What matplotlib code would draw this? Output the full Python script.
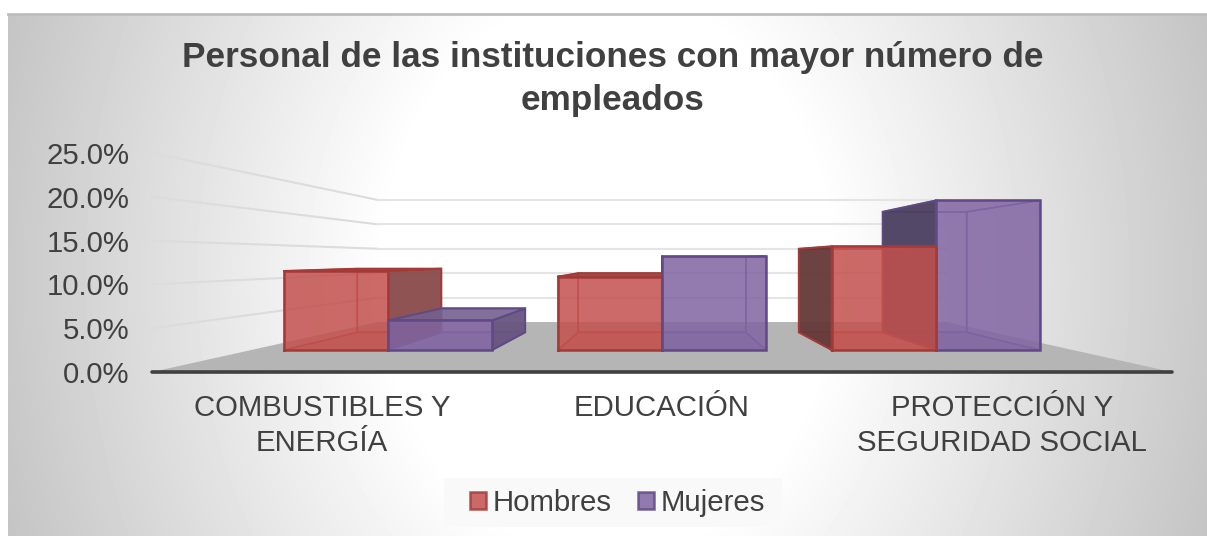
import matplotlib
matplotlib.use('Agg')
import matplotlib.pyplot as plt
from matplotlib.patches import Patch, Rectangle
import numpy as np

categories = ['COMBUSTIBLES Y\nENERGÍA', 'EDUCACIÓN', 'PROTECCIÓN Y\nSEGURIDAD SOCIAL']
series_names = ['Hombres', 'Mujeres']
hombres = [11.2, 10.4, 14.7]
mujeres = [4.2, 13.3, 21.2]
y_ticks = [0, 5, 10, 15, 20, 25]

W, H = 1207, 536
TEXT = '#404040'
FONT = 21.2

# perspective of the fake 3D box: vanishing point and depth scales
VP_X, VP_Y = 1.0, 12.9
S_FRONT, S_BACK = 0.805, 0.649
S_WALL = 0.558
BAR_W = 0.38

FILLS = ['#c2504d', '#8064a2']
EDGES = ['#a33a38', '#5f4a85']
INNER = ['#b5403d', '#6f5a95']
RIGHT_SIDE = ['#8a4a4a', '#675480']
LEFT_SIDE = ['#653838', '#4a3f5f']
TOP_SIDE = ['#8f3f3c', '#75608f']

plt.rcParams['font.family'] = ['Liberation Sans', 'DejaVu Sans']


def proj(x, v, s):
    return VP_X + (x - VP_X) * s, VP_Y + (v - VP_Y) * s


def face(ax, pts, color, edge, alpha=0.88, lw=1.4, z=3.0):
    xs = [p[0] for p in pts]
    ys = [p[1] for p in pts]
    ax.fill(xs, ys, facecolor=color, edgecolor='none', alpha=alpha, clip_on=False, zorder=z)
    ax.plot(xs + xs[:1], ys + ys[:1], color=edge, lw=lw, clip_on=False, zorder=z, solid_joinstyle='miter')


def outline(ax, pts, color, z):
    xs = [p[0] for p in pts]
    ys = [p[1] for p in pts]
    ax.plot(xs + xs[:1], ys + ys[:1], color=color, lw=1.1, alpha=0.75, clip_on=False, zorder=z)


def draw_bar(ax, x0, x1, v, i, z):
    fb = proj(x0, 0, S_FRONT)
    fr = proj(x1, 0, S_FRONT)
    ft = proj(x1, v, S_FRONT)
    fl = proj(x0, v, S_FRONT)
    bb = proj(x0, 0, S_BACK)
    br = proj(x1, 0, S_BACK)
    bt = proj(x1, v, S_BACK)
    bl = proj(x0, v, S_BACK)

    # faces seen through the front only get their outline
    outline(ax, [bb, br, bt, bl], INNER[i], z)
    outline(ax, [fb, fr, br, bb], INNER[i], z)
    ax.fill([fb[0], fr[0], br[0], bb[0]], [fb[1], fr[1], br[1], bb[1]],
            color=FILLS[i], alpha=0.25, lw=0, clip_on=False, zorder=z)
    if x1 <= VP_X:
        face(ax, [fr, br, bt, ft], RIGHT_SIDE[i], EDGES[i], alpha=0.95, z=z + 0.1)
    else:
        outline(ax, [fr, br, bt, ft], INNER[i], z)
    if x0 >= VP_X:
        face(ax, [fb, bb, bl, fl], LEFT_SIDE[i], EDGES[i], alpha=0.95, z=z + 0.1)
    else:
        outline(ax, [fb, bb, bl, fl], INNER[i], z)
    if v < VP_Y:
        face(ax, [fl, ft, bt, bl], TOP_SIDE[i], EDGES[i], alpha=0.9, z=z + 0.1)
    else:
        outline(ax, [fl, ft, bt, bl], INNER[i], z)
    face(ax, [fb, fr, ft, fl], FILLS[i], EDGES[i], alpha=0.85, lw=1.8, z=z + 0.2)


fig = plt.figure(figsize=(W / 100, H / 100), dpi=100, facecolor='white')

# chart area background, white middle going grey to the sides
bg = fig.add_axes([8 / W, 0, (W - 8) / W, (H - 14) / H], zorder=0)
px, py = np.meshgrid(np.arange(8, W), np.arange(14, H))
r = np.sqrt(((px - 607) / 600) ** 2 + ((py - 275) / 750) ** 2)
shade = 255 - np.clip((r - 0.37) / 0.63, 0, 1.15) * 54
bg.imshow(shade, cmap='gray', vmin=0, vmax=255, aspect='auto', interpolation='bilinear')
bg.set_xticks([])
bg.set_yticks([])
for name, sp in bg.spines.items():
    sp.set_visible(name == 'top')
bg.spines['top'].set_color('#bdbdbd')
bg.spines['top'].set_linewidth(2)

ax = fig.add_axes([152 / W, 1 - 372 / H, 1020 / W, 219 / H], zorder=1)
ax.patch.set_visible(False)
for sp in ax.spines.values():
    sp.set_visible(False)
ax.set_xlim(-0.5, 2.5)
ax.set_ylim(0, 25)

# gridlines: left wall then back wall
for t in y_ticks[1:]:
    p0 = proj(-0.5, t, 1)
    p1 = proj(-0.5, t, S_WALL)
    p2 = proj(2.5, t, S_WALL)
    ax.plot([p0[0], p1[0]], [p0[1], p1[1]], color='#dcdcdc', lw=1.5, clip_on=False, zorder=1)
    ax.plot([p1[0], p2[0]], [p1[1], p2[1]], color='#e4e4e4', lw=1.5, clip_on=False, zorder=1)

# floor
floor = [proj(-0.5, 0, 1), proj(2.5, 0, 1), proj(2.5, 0, S_WALL), proj(-0.5, 0, S_WALL)]
ax.fill([p[0] for p in floor], [p[1] for p in floor], color='#b5b5b5', lw=0, clip_on=False, zorder=2)
ax.plot([-0.5, 2.5], [0, 0], color='#404040', lw=2.6, solid_capstyle='round', clip_on=False, zorder=2.5)

for c, (h, m) in enumerate(zip(hombres, mujeres)):
    order = [0, 1] if c <= 1 else [1, 0]
    for k, i in enumerate(order):
        v = (h, m)[i]
        x0 = c - BAR_W if i == 0 else c
        draw_bar(ax, x0, x0 + BAR_W, v, i, 3 + k)

ax.set_yticks(y_ticks)
ax.set_yticklabels(['{0:.1f}%'.format(t) for t in y_ticks], fontsize=FONT, color=TEXT)
ax.set_xticks(range(len(categories)))
ax.set_xticklabels(categories, fontsize=FONT, color=TEXT, linespacing=1.33)
ax.tick_params(axis='y', length=0, pad=16)
ax.tick_params(axis='x', length=0, pad=16)

fig.text(613 / W, 1 - 79 / H, 'Personal de las instituciones con mayor número de\nempleados',
         ha='center', va='center', fontsize=25.3, fontweight='bold', color=TEXT, linespacing=1.36)

# legend box is wider than the legend itself in the original
fig.add_artist(Rectangle((444 / W, 1 - 527 / H), 338 / W, 49 / H, transform=fig.transFigure,
                         facecolor='#f9f9f9', edgecolor='none', alpha=0.9, zorder=0.5))
handles = [Patch(facecolor=FILLS[i], edgecolor=EDGES[i], alpha=0.85, lw=1.8) for i in range(2)]
leg = ax.legend(handles, series_names, loc='center', bbox_to_anchor=(617.5 / W, 1 - 503 / H),
                bbox_transform=fig.transFigure, ncol=2, fontsize=FONT, frameon=False,
                handlelength=0.54, handleheight=0.54, handletextpad=0.22, columnspacing=0.9,
                borderpad=0.1, labelcolor=TEXT, borderaxespad=0)

fig.savefig('out.png', dpi=100)
